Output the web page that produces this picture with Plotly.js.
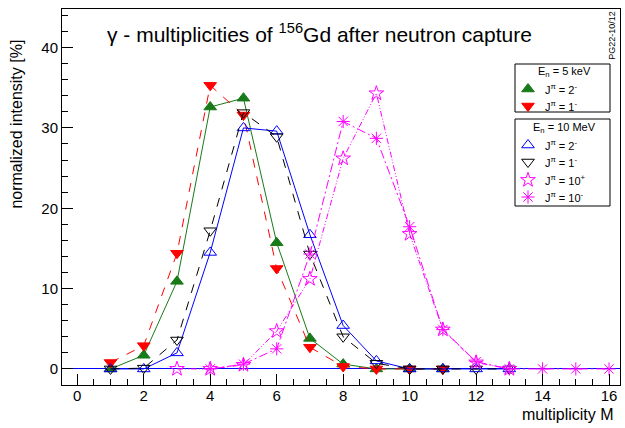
<!DOCTYPE html>
<html><head><meta charset="utf-8">
<script src="https://cdn.plot.ly/plotly-3.0.1.min.js"></script>
<style>html,body{margin:0;padding:0;background:#fff}#c{width:625px;height:428px}</style>
</head><body><div id="c"></div>
<script>
// 5 keV, J=2- (filled triangle up)
var m5k2 = [1,2,3,4,5,6,7,8,9,10,11];
var y5k2 = [0.0,1.7,10.9,32.6,33.7,15.7,3.8,0.6,0.0,0.0,0.0];
// 5 keV, J=1- (filled triangle down)
var m5k1 = [1,2,3,4,5,6,7,8,9,10,11];
var y5k1 = [0.8,2.9,14.4,35.3,31.6,12.5,2.7,0.3,0.0,0.0,0.0];
// 10 MeV, J=2- (open triangle up)
var m10m2 = [1,2,3,4,5,6,7,8,9,10,11,12,13];
var y10m2 = [0.0,0.0,2.0,14.5,30.0,29.6,16.7,5.4,1.0,0.0,0.0,0.0,0.0];
// 10 MeV, J=1- (open triangle down)
var m10m1 = [1,2,3,4,5,6,7,8,9,10,11,12,13];
var y10m1 = [0.0,0.1,3.6,17.2,31.9,28.9,14.3,4.0,0.7,0.0,0.0,0.0,0.0];
// 10 MeV, J=10+ (open star)
var m10p = [3,4,5,6,7,8,9,10,11,12,13];
var y10p = [0.0,0.0,0.5,4.7,11.2,26.2,34.3,16.8,4.9,0.8,0.0];
// 10 MeV, J=10- (asterisk)
var m10n = [4,5,6,7,8,9,10,11,12,13,14,15,16];
var y10n = [0.0,0.6,2.5,14.3,30.8,28.7,17.7,4.9,0.9,0.0,0.0,0.0,0.0];

var legendNames = ['J<sup>π</sup> = 2<sup>-</sup>','J<sup>π</sup> = 1<sup>-</sup>',
  'J<sup>π</sup> = 2<sup>-</sup>','J<sup>π</sup> = 1<sup>-</sup>',
  'J<sup>π</sup> = 10<sup>+</sup>','J<sup>π</sup> = 10<sup>-</sup>'];
var legendTitles = ['E<sub>n</sub> = 5 keV','E<sub>n</sub> = 10 MeV'];

var GREEN='#197a19', RED='#ff0000', BLUE='#0000ff', BLACK='#000000', MAG='#ff00ff';

var series = [
  {x:m5k2,y:y5k2,c:GREEN,s:'triangle-up',dash:'solid'},
  {x:m5k1,y:y5k1,c:RED,s:'triangle-down',dash:'dash'},
  {x:m10m2,y:y10m2,c:BLUE,s:'triangle-up-open',dash:'solid'},
  {x:m10m1,y:y10m1,c:BLACK,s:'triangle-down-open',dash:'dash'},
  {x:m10p,y:y10p,c:MAG,s:'star-open',dash:'6px,2px,1px,2px,1px,2px'},
  {x:m10n,y:y10n,c:MAG,s:'asterisk-open',dash:'9px,3px,2px,3px'}
];

// legend layout (pixel positions of the legend boxes, on an overlay pixel axis)
var LEG = {boxX0:515, boxX1:610, boxes:[[64,112],[119,206]], titleY:[72,128], titleX:564,
  symX:528, textX:543, rowY:[89,106,145,162,180,197]};

var traces = [];
series.forEach(function(s,i){
  traces.push({x:s.x,y:s.y,mode:'lines+markers',type:'scatter',showlegend:false,
    line:{color:s.c,width:1,dash:s.dash},
    marker:{symbol:s.s,color:s.c,size:11,line:{color:s.c,width:1}},
    cliponaxis:false});
});
series.forEach(function(s,i){
  traces.push({x:[LEG.symX],y:[LEG.rowY[i]],xaxis:'x2',yaxis:'y2',mode:'markers',type:'scatter',
    showlegend:false,hoverinfo:'skip',
    marker:{symbol:s.s,color:s.c,size:11,line:{color:s.c,width:1}}});
});

var F = 'Liberation Sans, Arial, sans-serif';
var shapes = LEG.boxes.map(function(b){
  return {type:'rect',xref:'x2',yref:'y2',x0:LEG.boxX0,x1:LEG.boxX1,y0:b[0],y1:b[1],
    line:{color:'#000',width:1},fillcolor:'#fff',layer:'below'};
});
var annotations = [
  {xref:'paper',yref:'paper',x:0.462,y:0.936,xanchor:'center',yanchor:'middle',showarrow:false,
   text:'γ - multiplicities of <sup>156</sup>Gd after neutron capture',font:{family:F,size:21}},
  {xref:'paper',yref:'paper',x:0.993,y:-0.05,xanchor:'right',yanchor:'top',showarrow:false,
   text:'multiplicity M',font:{family:F,size:16}},
  {xref:'paper',yref:'paper',x:-0.062,y:0.925,xanchor:'right',yanchor:'top',showarrow:false,textangle:-90,
   text:'normalized intensity [%]',font:{family:F,size:16}},
  {xref:'paper',yref:'paper',x:0.997,y:1,xanchor:'right',yanchor:'top',showarrow:false,textangle:-90,
   text:'PG22-10/12',font:{family:F,size:9}}
];
legendTitles.forEach(function(t,k){
  annotations.push({xref:'x2',yref:'y2',x:LEG.titleX,y:LEG.titleY[k],xanchor:'center',yanchor:'middle',
    showarrow:false,text:t,font:{family:F,size:11}});
});
legendNames.forEach(function(t,i){
  annotations.push({xref:'x2',yref:'y2',x:LEG.textX,y:LEG.rowY[i],xanchor:'left',yanchor:'middle',
    showarrow:false,text:t,font:{family:F,size:11}});
});

var layout = {
  width:625,height:428,
  margin:{l:62,r:5,t:9,b:43},
  paper_bgcolor:'#fff',plot_bgcolor:'#fff',
  font:{family:F,color:'#000'},
  showlegend:false,
  xaxis:{range:[-0.46,16.33],dtick:2,tick0:0,ticks:'inside',ticklen:11,tickcolor:'#000',
    showline:true,linecolor:'#000',linewidth:1,mirror:true,showgrid:false,zeroline:false,
    tickfont:{family:F,size:15},ticklabelstandoff:-3,
    minor:{dtick:0.5,ticks:'inside',ticklen:6,tickcolor:'#000',showgrid:false}},
  yaxis:{range:[-2,44.8],dtick:10,tick0:0,ticks:'inside',ticklen:11,tickcolor:'#000',
    showline:true,linecolor:'#000',linewidth:1,mirror:true,showgrid:false,
    zeroline:true,zerolinecolor:'#0000ff',zerolinewidth:1,
    tickfont:{family:F,size:15},
    minor:{dtick:2,ticks:'inside',ticklen:6,tickcolor:'#000',showgrid:false}},
  xaxis2:{overlaying:'x',range:[62,620],visible:false,fixedrange:true},
  yaxis2:{overlaying:'y',range:[385,9],visible:false,fixedrange:true},
  shapes:shapes,
  annotations:annotations
};
Plotly.newPlot('c',traces,layout,{staticPlot:true});
</script></body></html>
